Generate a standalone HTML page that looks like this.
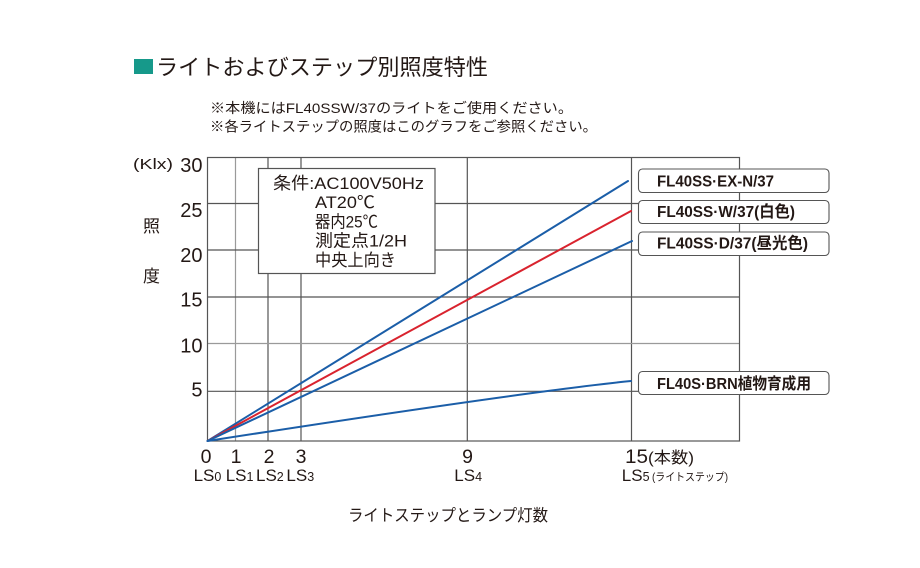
<!DOCTYPE html>
<html><head><meta charset="utf-8">
<style>
html,body{margin:0;padding:0;background:#fff;}
svg{display:block;}
text{font-family:"Liberation Sans","Noto Sans CJK JP",sans-serif;fill:#231815;}
</style></head>
<body>
<svg width="920" height="568" viewBox="0 0 920 568" xmlns="http://www.w3.org/2000/svg">
<rect width="920" height="568" fill="#fff"/>
<!-- title -->
<rect x="134" y="59" width="19" height="15" fill="#16998a"/>
<text x="156" y="75" font-size="22" textLength="332" lengthAdjust="spacingAndGlyphs">ライトおよびステップ別照度特性</text>
<text x="210" y="113" font-size="14" textLength="363" lengthAdjust="spacingAndGlyphs">※本機にはFL40SSW/37のライトをご使用ください。</text>
<text x="210" y="131.5" font-size="14" textLength="387" lengthAdjust="spacingAndGlyphs">※各ライトステップの照度はこのグラフをご参照ください。</text>

<!-- grid -->
<g stroke-width="1.2" fill="none">
<line x1="235.5" y1="157.5" x2="235.5" y2="441" stroke="#9a9a9a"/>
<line x1="268" y1="157.5" x2="268" y2="441" stroke="#555"/>
<line x1="301" y1="157.5" x2="301" y2="441" stroke="#555"/>
<line x1="467.3" y1="157.5" x2="467.3" y2="441" stroke="#555"/>
<line x1="631.5" y1="157.5" x2="631.5" y2="441" stroke="#555"/>
<line x1="207.5" y1="203.5" x2="739.5" y2="203.5" stroke="#555"/>
<line x1="207.5" y1="250" x2="739.5" y2="250" stroke="#555"/>
<line x1="207.5" y1="297" x2="739.5" y2="297" stroke="#555"/>
<line x1="207.5" y1="343.5" x2="739.5" y2="343.5" stroke="#9a9a9a"/>
<line x1="207.5" y1="391.3" x2="739.5" y2="391.3" stroke="#555"/>
<rect x="207.5" y="157.5" width="532" height="283.5" stroke="#555"/>
</g>

<!-- y labels -->
<g font-size="20" text-anchor="end">
<text x="202.5" y="172">30</text>
<text x="202.5" y="217">25</text>
<text x="202.5" y="262">20</text>
<text x="202.5" y="306.5">15</text>
<text x="202.5" y="352.5">10</text>
<text x="202.5" y="396.5">5</text>
</g>
<text x="133" y="169" font-size="15" textLength="40" lengthAdjust="spacingAndGlyphs">(Klx)</text>
<text x="143" y="232" font-size="17">照</text>
<text x="143" y="282" font-size="17">度</text>

<!-- condition box -->
<rect x="258.5" y="168.5" width="176.5" height="105" fill="#fff" stroke="#555" stroke-width="1.2"/>
<g font-size="17">
<text x="273" y="189" textLength="151" lengthAdjust="spacingAndGlyphs">条件:AC100V50Hz</text>
<text x="315" y="208" textLength="60" lengthAdjust="spacingAndGlyphs">AT20℃</text>
<text x="315" y="227.5" textLength="63" lengthAdjust="spacingAndGlyphs">器内25℃</text>
<text x="315" y="246.5" textLength="92" lengthAdjust="spacingAndGlyphs">測定点1/2H</text>
<text x="315" y="266" textLength="81" lengthAdjust="spacingAndGlyphs">中央上向き</text>
</g>

<!-- series -->
<g fill="none" stroke-width="2" stroke-linecap="round">
<line x1="207.5" y1="441" x2="628" y2="181" stroke="#1b5ea8"/>
<line x1="207.5" y1="441" x2="631" y2="211" stroke="#d9232e"/>
<line x1="207.5" y1="441" x2="632" y2="241" stroke="#1b5ea8"/>
<path d="M207.5,441 Q528,391.3 631,381" stroke="#1b5ea8"/>
</g>

<!-- legend boxes -->
<g fill="#fff" stroke="#555" stroke-width="1.1">
<rect x="638.5" y="169" width="190.5" height="23.5" rx="4"/>
<rect x="638.5" y="200.5" width="190.5" height="23" rx="4"/>
<rect x="638.5" y="232" width="190.5" height="23.5" rx="4"/>
<rect x="638.5" y="371.5" width="190.5" height="23" rx="4"/>
</g>
<g font-size="16" font-weight="bold">
<text x="657" y="186.5" textLength="117" lengthAdjust="spacingAndGlyphs">FL40SS·EX-N/37</text>
<text x="657" y="217" textLength="138" lengthAdjust="spacingAndGlyphs">FL40SS·W/37(白色)</text>
<text x="657" y="248.5" textLength="151" lengthAdjust="spacingAndGlyphs">FL40SS·D/37(昼光色)</text>
<text x="657" y="389" textLength="154" lengthAdjust="spacingAndGlyphs">FL40S·BRN植物育成用</text>
</g>

<!-- x labels -->
<g font-size="19.5" text-anchor="middle">
<text x="206" y="463">0</text>
<text x="236" y="463">1</text>
<text x="269" y="463">2</text>
<text x="301" y="463">3</text>
<text x="467.5" y="463">9</text>
</g>
<text x="625" y="463" font-size="19.5" textLength="23" lengthAdjust="spacingAndGlyphs">15</text>
<text x="648" y="463" font-size="16" textLength="46" lengthAdjust="spacingAndGlyphs">(本数)</text>

<g font-size="17">
<text x="193.6" y="481">LS<tspan font-size="12.5">0</tspan></text>
<text x="225.7" y="481">LS<tspan font-size="12.5">1</tspan></text>
<text x="256" y="481">LS<tspan font-size="12.5">2</tspan></text>
<text x="286.4" y="481">LS<tspan font-size="12.5">3</tspan></text>
<text x="454.3" y="481">LS<tspan font-size="12.5">4</tspan></text>
<text x="621.8" y="481">LS<tspan font-size="12.5">5</tspan></text>
</g>
<text x="652" y="480.5" font-size="11" textLength="76" lengthAdjust="spacingAndGlyphs">(ライトステップ)</text>

<text x="348" y="521" font-size="16.5" textLength="200" lengthAdjust="spacingAndGlyphs">ライトステップとランプ灯数</text>
</svg>
</body></html>
